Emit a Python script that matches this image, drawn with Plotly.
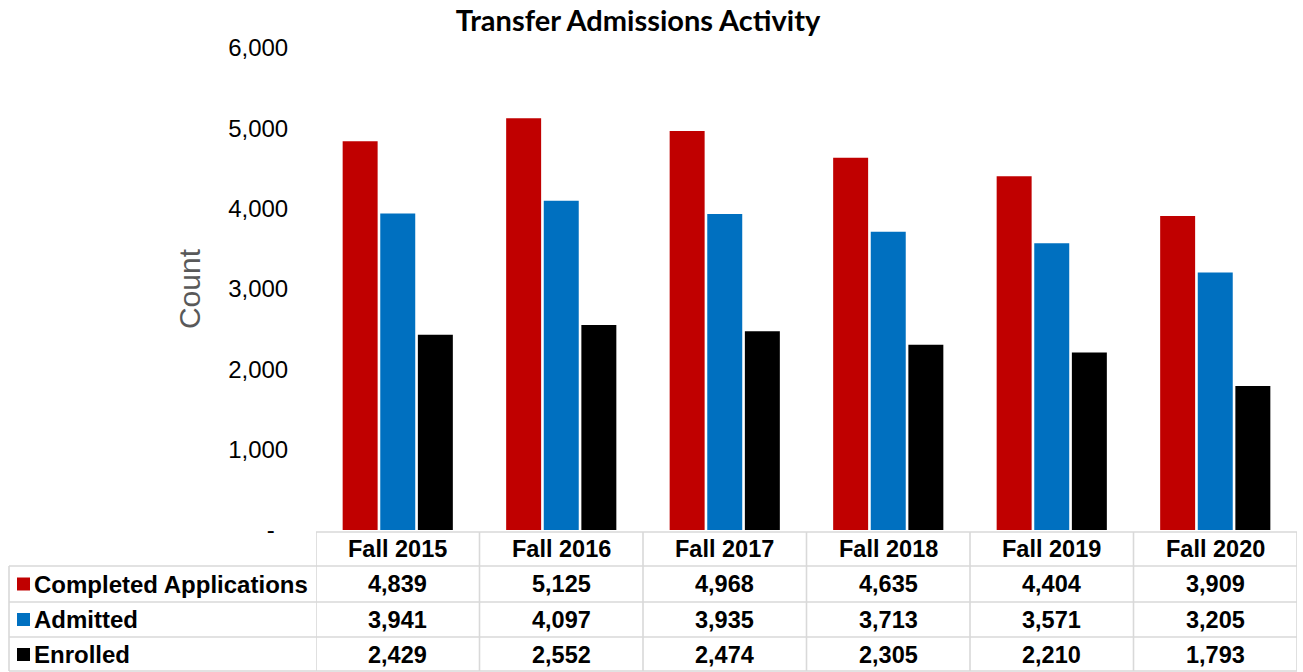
import plotly.graph_objects as go

categories = ["Fall 2015", "Fall 2016", "Fall 2017", "Fall 2018", "Fall 2019", "Fall 2020"]
series_names = ["Completed Applications", "Admitted", "Enrolled"]
completed = [4839, 5125, 4968, 4635, 4404, 3909]
admitted = [3941, 4097, 3935, 3713, 3571, 3205]
enrolled = [2429, 2552, 2474, 2305, 2210, 1793]
colors = ["#C00000", "#0070C0", "#000000"]
y_tickvals = [0, 1000, 2000, 3000, 4000, 5000, 6000]
y_ticktext = ["-\u00a0\u00a0", "1,000", "2,000", "3,000", "4,000", "5,000", "6,000"]

series_values = [completed, admitted, enrolled]

# page body margin is removed in post_script, so figure px == page px
OX, OY = 0, 0
W, H = 1303 - OX, 672 - OY
L, R = 316 - OX, 1297 - OX        # plot area left/right in figure px
T, B = 48 - OY, 530 - OY          # plot area top/bottom in figure px


def px_x(px):
    return (px - OX - L) / (R - L)


def px_y(py):
    return (B - (py - OY)) / (B - T)


fig = go.Figure()
for name, vals, col in zip(series_names, series_values, colors):
    fig.add_trace(go.Bar(
        x=categories, y=vals, name=name,
        marker=dict(color=col, line=dict(width=0)),
        showlegend=False,
    ))

shapes = []
annotations = []
grid = dict(color="#D9D9D9", width=1.6)

header_top, row_tops = 532, [566, 602, 637]
row_bottom = 671
shapes.append(dict(type="line", xref="paper", yref="paper",
                   x0=px_x(316), x1=px_x(1297), y0=px_y(header_top), y1=px_y(header_top), line=grid))
for yy in row_tops + [row_bottom]:
    shapes.append(dict(type="line", xref="paper", yref="paper",
                       x0=px_x(9), x1=px_x(1297), y0=px_y(yy), y1=px_y(yy), line=grid))
shapes.append(dict(type="line", xref="paper", yref="paper",
                   x0=px_x(9), x1=px_x(9), y0=px_y(row_tops[0]), y1=px_y(row_bottom), line=grid))
for k in range(len(categories) + 1):
    shapes.append(dict(type="line", xref="x", yref="paper",
                       x0=k - 0.5, x1=k - 0.5, y0=px_y(header_top), y1=px_y(row_bottom), line=grid))

tfont = dict(family="Liberation Sans, Arial, sans-serif", size=23.5, color="#000000")
header_c = (header_top + row_tops[0]) / 2
row_bounds = row_tops + [672]
row_centers = [(row_bounds[i] + row_bounds[i + 1]) / 2 for i in range(3)]

for i, c in enumerate(categories):
    annotations.append(dict(x=c, xref="x", y=px_y(header_c), yref="paper",
                            text="<b>%s</b>" % c, showarrow=False, font=tfont,
                            xanchor="center", yanchor="middle"))
    for r, vals in enumerate(series_values):
        annotations.append(dict(x=c, xref="x", y=px_y(row_centers[r]), yref="paper",
                                text="<b>{:,}</b>".format(vals[i]), showarrow=False, font=tfont,
                                xanchor="center", yanchor="middle"))

for r, (name, col) in enumerate(zip(series_names, colors)):
    cy = row_centers[r]
    shapes.append(dict(type="rect", xref="paper", yref="paper",
                       x0=px_x(17), x1=px_x(30), y0=px_y(cy - 6.5), y1=px_y(cy + 6.5),
                       fillcolor=col, line=dict(width=0)))
    annotations.append(dict(x=px_x(32), xref="paper", y=px_y(cy), yref="paper",
                            text="<b>%s</b>" % name, showarrow=False,
                            font=dict(tfont, size=24),
                            xanchor="left", yanchor="middle"))

fig.update_layout(
    width=W, height=H,
    margin=dict(l=L, r=W - R, t=T, b=H - B, autoexpand=False),
    paper_bgcolor="#FFFFFF", plot_bgcolor="#FFFFFF",
    barmode="group", bargap=0.31, bargroupgap=0.07,
    title=dict(text="<b>Transfer Admissions Activity</b>",
               font=dict(family="Lato, Open Sans, sans-serif", size=29, color="#000000"),
               x=(638 - OX) / W, xanchor="center", xref="container",
               y=1 - (21 - OY) / H, yanchor="middle"),
    xaxis=dict(showticklabels=False, showgrid=False, zeroline=False, showline=False,
               range=[-0.5, len(categories) - 0.5]),
    yaxis=dict(range=[0, 6000], tickvals=y_tickvals, ticktext=y_ticktext,
               showgrid=False, zeroline=False, showline=False,
               ticks="outside", ticklen=22, tickcolor="rgba(0,0,0,0)",
               tickfont=dict(family="Liberation Sans, Arial, sans-serif", size=24, color="#000000"),
               title=dict(text="Count", standoff=18,
                          font=dict(family="Liberation Sans, Arial, sans-serif", size=30, color="#595959"))),
    shapes=shapes, annotations=annotations,
)

fig.write_html(
    "out.html",
    config={"displayModeBar": False},
    post_script="document.body.style.margin='0';document.body.style.overflow='hidden';",
)
